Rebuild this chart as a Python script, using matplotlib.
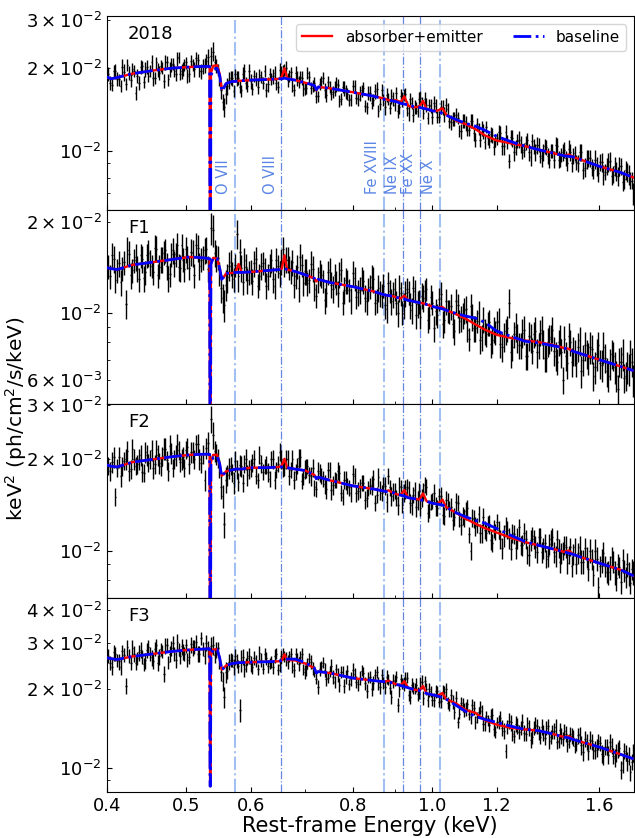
import numpy as np
import matplotlib
matplotlib.use('Agg')
import matplotlib.pyplot as plt
from matplotlib.ticker import NullFormatter

# bin energies of the spectra (keV), two interleaved sets of bins
energy = [
    0.402, 0.406, 0.410, 0.414, 0.418, 0.422, 0.426, 0.430, 0.434, 0.438, 0.442, 0.446, 0.450,
    0.454, 0.458, 0.462, 0.466, 0.470, 0.474, 0.478, 0.482, 0.486, 0.490, 0.494, 0.498,
    0.502, 0.507, 0.512, 0.517, 0.522, 0.527, 0.532, 0.537, 0.542, 0.547, 0.552, 0.557, 0.562,
    0.567, 0.572, 0.577, 0.582, 0.587, 0.592, 0.597,
    0.603, 0.609, 0.615, 0.621, 0.627, 0.633, 0.639, 0.645, 0.651, 0.657, 0.663, 0.669, 0.675,
    0.681, 0.687, 0.693, 0.699,
    0.704, 0.711, 0.718, 0.725, 0.732, 0.739, 0.746, 0.753, 0.760, 0.767, 0.774, 0.781, 0.788, 0.795,
    0.804, 0.812, 0.820, 0.828, 0.836, 0.844, 0.852, 0.860, 0.868, 0.876, 0.884, 0.892, 0.900,
    0.908, 0.916, 0.924, 0.932, 0.940, 0.948, 0.956, 0.964, 0.972, 0.980, 0.988, 0.996,
    1.005, 1.015, 1.025, 1.035, 1.045, 1.055, 1.065, 1.075, 1.085, 1.095, 1.105, 1.115, 1.125,
    1.135, 1.145, 1.155, 1.165, 1.175, 1.185, 1.195,
    1.206, 1.218, 1.230, 1.242, 1.254, 1.266, 1.278, 1.290, 1.302, 1.314, 1.326, 1.338, 1.350,
    1.362, 1.374, 1.386, 1.398, 1.410, 1.422, 1.434, 1.446, 1.458, 1.470, 1.482, 1.494,
    1.508, 1.523, 1.538, 1.553, 1.568, 1.583, 1.598, 1.613, 1.628, 1.643, 1.658, 1.673, 1.688,
    1.703, 1.718, 1.733, 1.748, 1.763]
energy_mid = [
    0.404, 0.408, 0.412, 0.416, 0.420, 0.424, 0.428, 0.432, 0.436, 0.440, 0.444, 0.448, 0.452,
    0.456, 0.460, 0.464, 0.468, 0.472, 0.476, 0.480, 0.484, 0.488, 0.492, 0.496, 0.500,
    0.5045, 0.5095, 0.5145, 0.5195, 0.5245, 0.5295, 0.5345, 0.5395, 0.5445, 0.5495, 0.5545,
    0.5595, 0.5645, 0.5695, 0.5745, 0.5795, 0.5845, 0.5895, 0.5945, 0.600,
    0.606, 0.612, 0.618, 0.624, 0.630, 0.636, 0.642, 0.648, 0.654, 0.660, 0.666, 0.672, 0.678,
    0.684, 0.690, 0.696, 0.7015,
    0.7075, 0.7145, 0.7215, 0.7285, 0.7355, 0.7425, 0.7495, 0.7565, 0.7635, 0.7705, 0.7775,
    0.7845, 0.7915, 0.7995,
    0.808, 0.816, 0.824, 0.832, 0.840, 0.848, 0.856, 0.864, 0.872, 0.880, 0.888, 0.896, 0.904,
    0.912, 0.920, 0.928, 0.936, 0.944, 0.952, 0.960, 0.968, 0.976, 0.984, 0.992, 1.0005,
    1.010, 1.020, 1.030, 1.040, 1.050, 1.060, 1.070, 1.080, 1.090, 1.100, 1.110, 1.120, 1.130,
    1.140, 1.150, 1.160, 1.170, 1.180, 1.190, 1.2005,
    1.212, 1.224, 1.236, 1.248, 1.260, 1.272, 1.284, 1.296, 1.308, 1.320, 1.332, 1.344, 1.356,
    1.368, 1.380, 1.392, 1.404, 1.416, 1.428, 1.440, 1.452, 1.464, 1.476, 1.488, 1.501,
    1.5155, 1.5305, 1.5455, 1.5605, 1.5755, 1.5905, 1.6055, 1.6205, 1.6355, 1.6505, 1.6655,
    1.6805, 1.6955, 1.7105, 1.7255, 1.7405, 1.7555]

# keV^2 flux, units of 1e-2 ph/cm2/s/keV
flux_2018 = [
    1.91, 1.74, 1.95, 1.82, 2.02, 1.75, 1.92, 1.99, 1.63, 1.77, 2.03, 1.98, 1.87, 2.10, 1.84, 1.97,
    2.04, 1.80, 2.11, 1.98, 2.08, 1.91, 2.19, 1.95, 2.06,
    1.88, 2.12, 1.98, 2.15, 1.95, 2.05, 2.19, 2.22, 2.10, 1.98, 1.66, 1.44, 1.72, 1.85, 1.65, 1.84,
    1.71, 1.91, 1.77, 1.95,
    1.68, 1.83, 1.89, 1.77, 1.67, 1.91, 1.87, 1.76, 1.97, 1.96, 2.00, 1.88, 1.73, 1.92, 1.78, 1.85, 1.68,
    1.92, 1.70, 1.76, 1.58, 1.79, 1.66, 1.78, 1.61, 1.69, 1.74, 1.55, 1.69, 1.61, 1.54,
    1.73, 1.55, 1.66, 1.46, 1.63, 1.49, 1.65, 1.40, 1.67, 1.44, 1.55, 1.58, 1.47, 1.40, 1.59, 1.60,
    1.43, 1.55, 1.35, 1.44, 1.54, 1.49, 1.54, 1.32, 1.46,
    1.50, 1.33, 1.45, 1.36, 1.42, 1.27, 1.31, 1.32, 1.18, 1.29, 1.19, 1.29, 1.16, 1.25, 1.10, 1.18,
    1.22, 1.09, 1.14, 1.09,
    1.17, 1.04, 1.17, 0.92, 1.11, 1.03, 1.10, 0.99, 1.07, 0.99, 1.09, 0.99, 1.05, 0.94, 1.04, 0.96,
    1.00, 0.93, 1.04, 0.93, 0.99, 0.94, 1.02, 0.90, 0.98,
    0.90, 0.99, 0.87, 0.94, 0.87, 0.93, 0.83, 0.91, 0.84, 0.91, 0.81, 0.88, 0.81, 0.88, 0.79, 0.84,
    0.78, 0.70]
flux_2018_mid = [
    1.77, 1.95, 1.83, 1.73, 1.93, 2.06, 1.81, 1.95, 1.88, 2.02, 1.78, 2.02, 1.96, 1.84, 2.10, 1.92,
    2.00, 2.10, 1.82, 2.06, 1.96, 2.17, 1.91, 1.99, 2.10,
    1.90, 2.06, 2.17, 1.95, 2.03, 2.13, 1.89, 2.30, 2.04, 1.82, 1.51, 1.61, 1.81, 1.84, 1.90, 1.85,
    1.66, 1.95, 1.72, 1.79,
    1.88, 1.71, 1.86, 1.95, 1.75, 1.83, 1.92, 1.71, 1.93, 1.97, 1.81, 1.93, 1.67, 1.84, 1.86, 1.69, 1.69,
    1.86, 1.72, 1.59, 1.75, 1.85, 1.60, 1.71, 1.64, 1.75, 1.52, 1.71, 1.64, 1.53, 1.73,
    1.56, 1.62, 1.69, 1.44, 1.62, 1.53, 1.68, 1.48, 1.53, 1.60, 1.43, 1.55, 1.63, 1.45, 1.54, 1.61,
    1.37, 1.49, 1.45, 1.40, 1.56, 1.37, 1.47, 1.47, 1.33,
    1.46, 1.33, 1.44, 1.47, 1.28, 1.31, 1.35, 1.18, 1.29, 1.26, 1.19, 1.29, 1.10, 1.20, 1.21, 1.08,
    1.11, 1.15, 1.03, 1.11,
    1.16, 1.04, 1.08, 1.12, 0.99, 1.09, 1.06, 1.01, 1.10, 0.95, 1.04, 1.05, 0.96, 0.99, 1.03, 0.93,
    1.00, 1.05, 0.93, 0.97, 1.01, 0.90, 0.99, 0.96, 0.91,
    0.99, 0.85, 0.93, 0.94, 0.85, 0.88, 0.91, 0.82, 0.88, 0.92, 0.82, 0.845, 0.88, 0.77, 0.85, 0.82,
    0.78]
flux_f1 = [
    1.42, 1.55, 1.28, 1.46, 1.40, 1.07, 1.57, 1.38, 1.53, 1.29, 1.51, 1.36, 1.58, 1.43, 1.64, 1.33,
    1.50, 1.58, 1.43, 1.34, 1.61, 1.56, 1.42, 1.67, 1.40,
    1.53, 1.59, 1.33, 1.64, 1.50, 1.61, 1.40, 1.91, 1.58, 1.52, 1.21, 1.06, 1.31, 1.47, 1.29, 1.82,
    1.59, 1.26, 1.42, 1.36,
    1.27, 1.51, 1.32, 1.46, 1.23, 1.44, 1.29, 1.50, 1.35, 1.63, 1.50, 1.41, 1.47, 1.32, 1.21, 1.44, 1.37,
    1.25, 1.45, 1.20, 1.29, 1.33, 1.10, 1.36, 1.24, 1.33, 1.16, 1.39, 1.19, 1.27, 1.10,
    1.30, 1.17, 1.30, 1.12, 1.20, 1.31, 1.08, 1.21, 1.14, 1.06, 1.25, 1.09, 1.20, 1.00, 1.16, 1.06,
    1.20, 1.06, 1.21, 0.98, 1.09, 1.14, 1.18, 0.95, 1.13,
    0.89, 0.98, 1.15, 0.95, 1.015, 1.05, 0.87, 1.06, 0.96, 1.02, 0.88, 1.05, 0.89, 0.94, 0.81, 0.95,
    0.85, 0.93, 0.81, 0.86,
    0.94, 0.77, 0.87, 1.08, 0.77, 0.90, 0.78, 0.86, 0.72, 0.84, 0.75, 0.87, 0.78, 0.88, 0.71, 0.80,
    0.83, 0.75, 0.69, 0.82, 0.60, 0.72, 0.84, 0.69, 0.74,
    0.77, 0.64, 0.78, 0.71, 0.76, 0.66, 0.78, 0.67, 0.71, 0.62, 0.73, 0.66, 0.56, 0.69, 0.61, 0.66,
    0.73, 0.60]
flux_f1_mid = [
    1.32, 1.51, 1.38, 1.26, 1.47, 1.61, 1.33, 1.49, 1.40, 1.55, 1.30, 1.55, 1.47, 1.36, 1.63, 1.42,
    1.50, 1.61, 1.30, 1.56, 1.46, 1.68, 1.41, 1.50, 1.62,
    1.41, 1.58, 1.68, 1.43, 1.52, 1.62, 1.36, 1.88, 1.52, 1.35, 1.12, 1.24, 1.43, 1.34, 1.44, 1.32,
    1.41, 1.50, 1.28, 1.37,
    1.46, 1.23, 1.43, 1.39, 1.32, 1.49, 1.23, 1.43, 1.48, 1.44, 1.50, 1.37, 1.24, 1.42, 1.53, 1.25, 1.37,
    1.28, 1.40, 1.14, 1.36, 1.275, 1.16, 1.39, 1.20, 1.26, 1.34, 1.08, 1.28, 1.19, 1.35,
    1.13, 1.19, 1.27, 1.09, 1.22, 1.29, 1.10, 1.16, 1.23, 1.03, 1.18, 1.15, 1.08, 1.21, 1.00, 1.16,
    1.17, 1.02, 1.18, 1.07, 0.97, 1.12, 1.20, 0.98, 1.08,
    1.01, 1.11, 0.92, 1.09, 1.01, 0.92, 1.09, 0.94, 0.98, 1.03, 0.82, 0.97, 0.89, 1.00, 0.83, 0.87,
    0.92, 0.79, 0.88, 0.93,
    0.79, 0.835, 0.89, 0.74, 0.85, 0.83, 0.78, 0.88, 0.72, 0.83, 0.85, 0.74, 0.86, 0.79, 0.71, 0.82,
    0.88, 0.72, 0.80, 0.74, 0.82, 0.68, 0.80, 0.75, 0.68,
    0.81, 0.70, 0.73, 0.77, 0.62, 0.73, 0.68, 0.77, 0.64, 0.68, 0.72, 0.62, 0.69, 0.73, 0.62, 0.65,
    0.69]
flux_f2 = [
    1.90, 1.95, 1.50, 2.02, 1.89, 2.00, 1.82, 2.15, 1.90, 2.00, 1.81, 2.10, 1.94, 2.13, 1.92, 2.06,
    1.89, 2.16, 1.98, 2.21, 1.87, 2.06, 2.13, 1.99, 1.87,
    2.18, 2.10, 1.99, 2.24, 1.93, 1.70, 2.26, 2.70, 2.12, 2.01, 1.62, 1.22, 1.77, 1.90, 1.67, 1.85,
    1.91, 1.67, 1.99, 1.85,
    1.94, 1.76, 2.06, 1.81, 1.91, 1.72, 1.99, 1.84, 2.11, 1.86, 1.99, 1.75, 1.99, 1.81, 2.01, 1.69, 1.85,
    1.89, 1.75, 1.61, 1.83, 1.76, 1.65, 1.84, 1.58, 1.71, 1.83, 1.55, 1.71, 1.63, 1.55,
    1.76, 1.57, 1.67, 1.47, 1.60, 1.64, 1.43, 1.74, 1.55, 1.63, 1.76, 1.51, 1.57, 1.41, 1.61, 1.55,
    1.62, 1.43, 1.52, 1.39, 1.57, 1.49, 1.64, 1.33, 1.45,
    1.54, 1.38, 1.51, 1.30, 1.46, 1.39, 1.29, 1.43, 1.21, 1.28, 1.38, 1.00, 1.27, 1.21, 1.14, 1.29,
    1.14, 1.22, 1.06, 1.15,
    1.17, 1.02, 1.20, 1.10, 1.14, 1.02, 1.19, 1.04, 1.09, 0.97, 1.12, 1.03, 1.11, 0.99, 1.06, 0.96,
    1.09, 0.99, 1.09, 0.92, 1.00, 1.03, 0.97, 0.89, 1.03,
    0.98, 0.92, 1.02, 0.87, 0.94, 1.00, 0.76, 0.93, 0.89, 0.85, 0.95, 0.85, 0.90, 0.79, 0.86, 0.90,
    0.78, 0.85]
flux_f2_mid = [
    1.82, 2.02, 1.87, 1.75, 1.97, 2.12, 1.85, 1.99, 1.92, 2.06, 1.80, 2.06, 1.99, 1.86, 2.16, 1.94,
    2.04, 2.16, 1.82, 2.09, 1.99, 2.23, 1.95, 2.03, 2.14,
    1.92, 2.11, 2.24, 1.99, 2.07, 2.17, 1.90, 2.40, 2.07, 1.86, 1.51, 1.71, 1.86, 1.80, 1.97, 1.68,
    1.89, 1.93, 1.77, 1.87,
    2.00, 1.70, 1.93, 1.89, 1.81, 2.00, 1.71, 1.92, 1.99, 1.87, 1.99, 1.84, 1.71, 1.90, 2.02, 1.74, 1.86,
    1.77, 1.87, 1.59, 1.80, 1.725, 1.59, 1.84, 1.64, 1.70, 1.79, 1.50, 1.70, 1.61, 1.78,
    1.54, 1.60, 1.67, 1.49, 1.63, 1.72, 1.52, 1.575, 1.65, 1.44, 1.61, 1.56, 1.49, 1.63, 1.41, 1.59,
    1.60, 1.41, 1.58, 1.46, 1.38, 1.56, 1.62, 1.37, 1.46,
    1.40, 1.51, 1.31, 1.46, 1.37, 1.26, 1.44, 1.27, 1.30, 1.35, 1.13, 1.28, 1.20, 1.32, 1.14, 1.17,
    1.22, 1.08, 1.18, 1.24,
    1.09, 1.12, 1.17, 1.01, 1.13, 1.10, 1.04, 1.14, 0.97, 1.08, 1.09, 0.99, 1.11, 1.02, 0.94, 1.05,
    1.11, 0.96, 1.02, 0.98, 1.04, 0.91, 1.03, 0.975, 0.90,
    1.03, 0.92, 0.95, 1.00, 0.83, 0.94, 0.89, 0.98, 0.85, 0.88, 0.92, 0.81, 0.88, 0.93, 0.82, 0.84,
    0.87]
flux_f3 = [
    2.67, 2.43, 2.73, 2.55, 2.78, 2.05, 2.68, 2.87, 2.51, 2.76, 2.66, 2.57, 2.90, 2.64, 2.84, 2.52,
    2.83, 2.29, 2.94, 2.72, 3.00, 2.59, 2.83, 2.91, 2.73,
    2.59, 2.96, 2.89, 2.72, 3.12, 2.67, 2.85, 2.92, 2.69, 2.86, 2.33, 1.86, 2.35, 2.59, 2.43, 2.56,
    1.66, 2.65, 2.47, 2.68,
    2.43, 2.56, 2.74, 2.39, 2.62, 2.51, 2.42, 2.73, 2.47, 2.72, 2.61, 2.66, 2.45, 2.72, 2.50, 2.72, 2.33,
    2.50, 2.54, 2.33, 2.04, 2.44, 2.36, 2.21, 2.45, 2.13, 2.26, 2.32, 2.06, 2.35, 2.19,
    2.29, 2.08, 2.35, 2.10, 2.21, 2.00, 2.26, 2.10, 2.26, 2.04, 2.17, 1.87, 2.16, 1.74, 2.18, 2.09,
    2.21, 1.87, 2.02, 2.07, 1.92, 2.13, 2.14, 1.82, 1.96,
    1.82, 1.96, 1.80, 1.94, 1.77, 1.89, 1.63, 1.49, 1.76, 1.66, 1.75, 1.56, 1.69, 1.56, 1.70, 1.47,
    1.57, 1.46, 1.59, 1.37,
    1.50, 1.42, 1.16, 1.51, 1.35, 1.47, 1.37, 1.50, 1.34, 1.42, 1.31, 1.46, 1.36, 1.43, 1.30, 1.44,
    1.31, 1.38, 1.25, 1.39, 1.29, 1.35, 1.27, 1.32, 1.21,
    1.33, 1.22, 1.29, 1.16, 1.26, 1.17, 1.26, 1.13, 1.20, 1.12, 1.21, 1.09, 1.17, 0.98, 1.16, 1.06,
    0.96, 1.14]
flux_f3_mid = [
    2.51, 2.76, 2.57, 2.43, 2.70, 2.88, 2.52, 2.72, 2.62, 2.82, 2.48, 2.81, 2.72, 2.56, 2.93, 2.66,
    2.78, 2.93, 2.53, 2.86, 2.73, 3.02, 2.66, 2.78, 2.93,
    2.65, 2.88, 3.03, 2.72, 2.84, 2.99, 2.65, 2.94, 2.83, 2.54, 2.14, 2.32, 2.53, 2.57, 2.66, 2.44,
    2.57, 2.39, 2.63, 2.50,
    2.63, 2.38, 2.59, 2.72, 2.44, 2.54, 2.68, 2.37, 2.66, 2.67, 2.54, 2.73, 2.37, 2.61, 2.64, 2.38, 2.39,
    2.61, 2.40, 2.19, 2.39, 2.52, 2.19, 2.34, 2.23, 2.38, 2.07, 2.33, 2.23, 2.08, 2.36,
    2.13, 2.21, 2.31, 1.97, 2.22, 2.11, 2.32, 2.03, 2.11, 2.23, 2.01, 2.15, 2.23, 1.99, 2.10, 2.19,
    1.89, 2.07, 2.01, 1.92, 2.12, 1.85, 2.00, 1.99, 1.81,
    1.96, 1.79, 1.95, 1.99, 1.74, 1.785, 1.85, 1.61, 1.74, 1.68, 1.60, 1.73, 1.49, 1.63, 1.64, 1.47,
    1.52, 1.58, 1.40, 1.49,
    1.55, 1.38, 1.43, 1.49, 1.32, 1.45, 1.42, 1.36, 1.48, 1.28, 1.42, 1.44, 1.31, 1.36, 1.42, 1.27,
    1.37, 1.43, 1.27, 1.32, 1.38, 1.23, 1.35, 1.30, 1.23,
    1.34, 1.15, 1.26, 1.28, 1.16, 1.19, 1.24, 1.11, 1.20, 1.25, 1.11, 1.14, 1.19, 1.04, 1.14, 1.11,
    1.05]

# 1-sigma errors, percent of flux (main bins; mid bins use the same run)
err_2018 = [
    6, 5, 6, 5, 7, 5, 6, 5, 6, 6, 5, 6, 5, 6, 5, 6, 5, 6, 5, 6, 5, 6, 5, 6, 5,
    6, 5, 6, 5, 6, 6, 7, 8, 6, 5, 7, 8, 7, 6, 5, 6, 5, 6, 5, 6,
    5, 6, 5, 5, 6, 5, 6, 5, 6, 5, 6, 5, 5, 6, 5, 6, 5,
    5, 5, 6, 5, 5, 6, 5, 5, 6, 5, 5, 6, 5, 5,
    5, 6, 5, 5, 6, 5, 6, 5, 5, 6, 5, 6, 5, 6, 6, 5, 6, 5, 6, 5, 6, 5, 6, 5, 6,
    6, 5, 6, 6, 5, 6, 6, 5, 6, 6, 5, 6, 6, 5, 6, 6, 5, 6, 6, 5,
    6, 7, 6, 6, 7, 6, 7, 6, 6, 7, 6, 7, 6, 7, 6, 7, 6, 7, 7, 6, 7, 6, 7, 7, 6,
    7, 7, 8, 7, 7, 8, 7, 8, 7, 8, 7, 8, 8, 7, 8, 8, 7, 9]
err_f1 = [
    9, 10, 9, 10, 9, 11, 10, 9, 10, 9, 10, 9, 10, 9, 10, 9, 10, 9, 10, 9, 10, 9, 10, 9, 10,
    9, 10, 9, 10, 9, 10, 10, 12, 10, 9, 11, 12, 11, 10, 9, 11, 10, 9, 10, 9,
    10, 9, 10, 9, 10, 9, 10, 9, 10, 9, 10, 9, 10, 9, 10, 9, 10,
    9, 10, 9, 10, 9, 10, 9, 10, 9, 10, 9, 10, 9, 10,
    9, 10, 9, 10, 9, 10, 9, 10, 9, 10, 9, 10, 9, 10, 9, 10, 9, 10, 9, 10, 9, 10, 9, 10, 9,
    10, 9, 10, 10, 9, 10, 10, 9, 10, 10, 9, 10, 10, 9, 10, 10, 9, 10, 10, 9,
    10, 11, 10, 11, 10, 11, 10, 11, 10, 11, 10, 11, 10, 11, 10, 11, 10, 11, 10, 11, 10, 11, 10, 11, 10,
    11, 12, 11, 12, 11, 12, 11, 12, 11, 12, 11, 12, 11, 12, 11, 12, 11, 12]
err_f2 = [
    7, 8, 7, 8, 7, 8, 7, 8, 7, 8, 7, 8, 7, 8, 7, 8, 7, 8, 7, 8, 7, 8, 7, 8, 7,
    7, 8, 7, 8, 7, 8, 8, 10, 8, 7, 9, 10, 8, 7, 8, 7, 8, 7, 8, 7,
    7, 6, 7, 6, 7, 6, 7, 6, 7, 6, 7, 6, 7, 6, 7, 6, 7,
    6, 7, 6, 7, 6, 7, 6, 7, 6, 7, 6, 7, 6, 7,
    6, 7, 6, 7, 6, 7, 6, 7, 6, 7, 6, 7, 6, 7, 6, 7, 6, 7, 6, 7, 6, 7, 6, 7, 6,
    7, 6, 7, 7, 6, 7, 7, 6, 7, 7, 6, 7, 7, 6, 7, 7, 6, 7, 7, 6,
    7, 8, 7, 8, 7, 8, 7, 8, 7, 8, 7, 8, 7, 8, 7, 8, 7, 8, 7, 8, 7, 8, 7, 8, 7,
    8, 9, 8, 9, 8, 9, 8, 9, 8, 9, 8, 9, 8, 9, 8, 9, 8, 9]
err_f3 = [
    6, 7, 6, 7, 6, 7, 6, 7, 6, 7, 6, 7, 6, 7, 6, 7, 6, 7, 6, 7, 6, 7, 6, 7, 6,
    6, 7, 6, 7, 6, 7, 7, 8, 7, 6, 8, 9, 7, 6, 7, 6, 10, 7, 6, 7,
    6, 5, 6, 5, 6, 5, 6, 5, 6, 5, 6, 5, 6, 5, 6, 5, 6,
    5, 6, 5, 6, 5, 6, 5, 6, 5, 6, 5, 6, 5, 6,
    5, 6, 5, 6, 5, 6, 5, 6, 5, 6, 5, 6, 5, 6, 5, 6, 5, 6, 5, 6, 5, 6, 5, 6, 5,
    6, 5, 6, 6, 5, 6, 6, 5, 6, 6, 5, 6, 6, 5, 6, 6, 5, 6, 6, 5,
    6, 7, 6, 7, 6, 7, 6, 7, 6, 7, 6, 7, 6, 7, 6, 7, 6, 7, 6, 7, 6, 7, 6, 7, 6,
    7, 8, 7, 8, 7, 8, 7, 8, 7, 8, 7, 8, 7, 8, 7, 8, 7, 8]

# model curves (keV grid, flux in 1e-2)
model_energy = [
    0.400, 0.405, 0.412, 0.430, 0.455, 0.480, 0.505, 0.525, 0.5345, 0.5352, 0.5358, 0.5365,
    0.540, 0.546, 0.550, 0.553, 0.556, 0.560, 0.570, 0.575, 0.580, 0.585, 0.600, 0.630,
    0.650, 0.655, 0.660, 0.665, 0.680, 0.700, 0.718, 0.722, 0.726, 0.750, 0.800, 0.850,
    0.875, 0.885, 0.895, 0.905, 0.915, 0.925, 0.935, 0.950, 0.965, 0.975, 0.985, 1.000,
    1.015, 1.030, 1.040, 1.070, 1.100, 1.130, 1.160, 1.200, 1.250, 1.300, 1.350, 1.400,
    1.450, 1.470, 1.490, 1.550, 1.600, 1.700, 1.765]

red_2018 = [
    1.86, 1.83, 1.85, 1.91, 1.96, 2.00, 2.02, 2.03, 2.03, 0.30, 0.30, 1.92,
    2.04, 2.05, 1.90, 1.68, 1.70, 1.76, 1.79, 1.79, 1.80, 1.80, 1.81, 1.82,
    1.83, 1.86, 2.00, 1.84, 1.81, 1.77, 1.73, 1.66, 1.71, 1.69, 1.635, 1.58,
    1.55, 1.53, 1.52, 1.53, 1.50, 1.58, 1.46, 1.44, 1.45, 1.52, 1.42, 1.40,
    1.40, 1.43, 1.36, 1.29, 1.25, 1.20, 1.14, 1.09, 1.065, 1.04, 1.01, 0.985,
    0.96, 0.97, 0.95, 0.91, 0.88, 0.835, 0.80]
blue_2018 = [
    1.86, 1.83, 1.85, 1.91, 1.96, 2.00, 2.02, 2.03, 2.03, 0.30, 0.30, 1.88,
    1.98, 2.00, 1.88, 1.65, 1.69, 1.76, 1.79, 1.79, 1.80, 1.80, 1.81, 1.82,
    1.83, 1.83, 1.84, 1.83, 1.81, 1.77, 1.73, 1.67, 1.71, 1.69, 1.635, 1.58,
    1.54, 1.53, 1.52, 1.51, 1.49, 1.48, 1.47, 1.45, 1.44, 1.43, 1.42, 1.40,
    1.39, 1.37, 1.35, 1.30, 1.26, 1.23, 1.19, 1.13, 1.08, 1.04, 1.01, 0.985,
    0.96, 0.955, 0.95, 0.91, 0.88, 0.835, 0.80]
red_f1 = [
    1.41, 1.40, 1.39, 1.44, 1.47, 1.50, 1.53, 1.52, 1.51, 0.25, 0.25, 1.45,
    1.52, 1.51, 1.40, 1.30, 1.31, 1.35, 1.355, 1.36, 1.45, 1.36, 1.365, 1.38,
    1.39, 1.40, 1.55, 1.39, 1.37, 1.335, 1.30, 1.27, 1.29, 1.26, 1.22, 1.175,
    1.145, 1.14, 1.135, 1.125, 1.115, 1.14, 1.10, 1.09, 1.08, 1.075, 1.065, 1.05,
    1.04, 1.045, 1.02, 0.99, 0.955, 0.915, 0.88, 0.845, 0.825, 0.81, 0.80, 0.785,
    0.765, 0.76, 0.745, 0.72, 0.70, 0.665, 0.643]
blue_f1 = [
    1.41, 1.40, 1.39, 1.44, 1.47, 1.50, 1.53, 1.52, 1.51, 0.25, 0.25, 1.45,
    1.52, 1.51, 1.40, 1.29, 1.31, 1.35, 1.355, 1.36, 1.36, 1.36, 1.365, 1.38,
    1.39, 1.39, 1.40, 1.39, 1.37, 1.335, 1.30, 1.27, 1.29, 1.26, 1.22, 1.175,
    1.145, 1.14, 1.135, 1.125, 1.115, 1.11, 1.10, 1.09, 1.08, 1.075, 1.065, 1.05,
    1.04, 1.03, 1.02, 0.995, 0.975, 0.96, 0.93, 0.87, 0.835, 0.805, 0.795, 0.78,
    0.765, 0.755, 0.745, 0.72, 0.70, 0.665, 0.643]
red_f2 = [
    1.91, 1.89, 1.88, 1.95, 1.99, 2.03, 2.06, 2.07, 2.07, 0.30, 0.30, 1.95,
    2.06, 2.06, 1.92, 1.76, 1.78, 1.82, 1.84, 1.85, 1.85, 1.85, 1.87, 1.87,
    1.88, 1.90, 2.00, 1.87, 1.85, 1.83, 1.77, 1.72, 1.74, 1.70, 1.63, 1.59,
    1.565, 1.575, 1.55, 1.53, 1.52, 1.58, 1.49, 1.48, 1.47, 1.54, 1.45, 1.43,
    1.42, 1.47, 1.39, 1.33, 1.27, 1.225, 1.185, 1.145, 1.10, 1.065, 1.04, 1.015,
    0.99, 1.00, 0.97, 0.935, 0.91, 0.865, 0.825]
blue_f2 = [
    1.91, 1.89, 1.88, 1.95, 1.99, 2.03, 2.06, 2.07, 2.07, 0.30, 0.30, 1.92,
    2.02, 2.04, 1.92, 1.75, 1.78, 1.82, 1.84, 1.85, 1.85, 1.85, 1.87, 1.87,
    1.88, 1.88, 1.88, 1.87, 1.85, 1.83, 1.77, 1.72, 1.74, 1.70, 1.63, 1.59,
    1.565, 1.555, 1.55, 1.53, 1.52, 1.51, 1.49, 1.48, 1.47, 1.46, 1.45, 1.43,
    1.42, 1.41, 1.39, 1.33, 1.29, 1.255, 1.23, 1.18, 1.12, 1.07, 1.04, 1.015,
    0.99, 0.98, 0.97, 0.935, 0.91, 0.865, 0.825]
red_f3 = [
    2.63, 2.61, 2.59, 2.66, 2.72, 2.78, 2.82, 2.84, 2.85, 0.85, 0.85, 2.70,
    2.83, 2.83, 2.62, 2.37, 2.40, 2.46, 2.50, 2.51, 2.52, 2.52, 2.53, 2.54,
    2.55, 2.57, 2.71, 2.58, 2.57, 2.50, 2.40, 2.30, 2.33, 2.30, 2.20, 2.15,
    2.13, 2.15, 2.11, 2.08, 2.06, 2.14, 2.02, 1.99, 1.97, 2.05, 1.92, 1.90,
    1.88, 1.93, 1.83, 1.76, 1.66, 1.62, 1.52, 1.46, 1.42, 1.40, 1.385, 1.35,
    1.31, 1.32, 1.28, 1.235, 1.20, 1.125, 1.08]
blue_f3 = [
    2.63, 2.61, 2.59, 2.66, 2.72, 2.78, 2.82, 2.84, 2.85, 0.85, 0.85, 2.70,
    2.83, 2.83, 2.62, 2.36, 2.40, 2.46, 2.50, 2.51, 2.52, 2.52, 2.53, 2.54,
    2.55, 2.57, 2.60, 2.60, 2.60, 2.52, 2.40, 2.30, 2.33, 2.30, 2.20, 2.15,
    2.13, 2.12, 2.11, 2.08, 2.06, 2.04, 2.02, 1.99, 1.97, 1.95, 1.92, 1.90,
    1.88, 1.85, 1.83, 1.73, 1.64, 1.57, 1.53, 1.49, 1.44, 1.40, 1.385, 1.35,
    1.31, 1.30, 1.28, 1.235, 1.20, 1.125, 1.08]

epochs = ['2018', 'F1', 'F2', 'F3']
y_ranges = [(0.61, 3.10), (0.50, 2.19), (0.70, 3.03), (0.81, 4.46)]

line_names = ['O VII', 'O VIII', 'Fe XVIII', 'Ne IX', 'Fe XX', 'Ne X']
line_energy = [0.574, 0.654, 0.873, 0.922, 0.966, 1.022]
line_light = [True, False, True, False, False, True]

x_ticks = [0.4, 0.5, 0.6, 0.8, 1.0, 1.2, 1.6]

fluxes = [flux_2018, flux_f1, flux_f2, flux_f3]
fluxes_mid = [flux_2018_mid, flux_f1_mid, flux_f2_mid, flux_f3_mid]
errs = [err_2018, err_f1, err_f2, err_f3]
reds = [red_2018, red_f1, red_f2, red_f3]
blues = [blue_2018, blue_f1, blue_f2, blue_f3]

fig, axes = plt.subplots(4, 1, figsize=(6.35, 8.38), dpi=100, sharex=True)
fig.subplots_adjust(left=0.168, right=0.998, top=0.981, bottom=0.0553, hspace=0)

E = np.array(energy + energy_mid)
order = np.argsort(E)
half_bin = np.empty_like(E)
half_bin[order] = np.gradient(E[order]) / 2
ME = np.array(model_energy)

for i, ax in enumerate(axes):
    f = np.array(fluxes[i] + fluxes_mid[i]) * 1e-2
    pct = np.array(errs[i] + errs[i][:len(energy_mid)])
    ax.errorbar(E, f, yerr=f * pct / 100, xerr=half_bin, fmt='none',
                ecolor='k', elinewidth=1.0, zorder=2)
    ax.plot(ME, np.array(reds[i]) * 1e-2, color='red', lw=1.7, zorder=3,
            label='absorber+emitter')
    ax.plot(ME, np.array(blues[i]) * 1e-2, color='blue', ls='-.', lw=2.0, zorder=4,
            label='baseline')
    for e, light in zip(line_energy, line_light):
        if light:
            ax.axvline(e, color='#6495ED', ls='-.', lw=1.5, alpha=0.6, zorder=1)
        else:
            ax.axvline(e, color='#4169E1', ls='-.', lw=0.9, alpha=0.8, zorder=1)
    ax.set_xscale('log')
    ax.set_yscale('log')
    ax.set_ylim(y_ranges[i][0] * 1e-2, y_ranges[i][1] * 1e-2)
    ax.text(0.04, 0.905, epochs[i], transform=ax.transAxes, fontsize=13, va='center')
    ax.tick_params(which='both', direction='in', labelsize=13)

axes[0].legend(loc='upper right', ncol=2, fontsize=11)
for name, e in zip(line_names, line_energy):
    axes[0].annotate(name, xy=(e, 0.084), xycoords=('data', 'axes fraction'),
                     xytext=(-2.5, 0), textcoords='offset points', rotation=90,
                     ha='right', va='bottom', color='#5B86E5', fontsize=10.5)

axes[-1].set_xlim(0.4, 1.765)
axes[-1].set_xticks(x_ticks)
axes[-1].set_xticklabels(['0.4', '0.5', '0.6', '0.8', '1.0', '1.2', '1.6'])
axes[-1].xaxis.set_minor_formatter(NullFormatter())
axes[-1].set_xlabel('Rest-frame Energy (keV)', fontsize=15, labelpad=1)

fig.text(0.026, 0.5, 'keV$^2$ (ph/cm$^2$/s/keV)', rotation=90, va='center', ha='center',
         fontsize=14.5)

fig.savefig('out.png', dpi=100)
